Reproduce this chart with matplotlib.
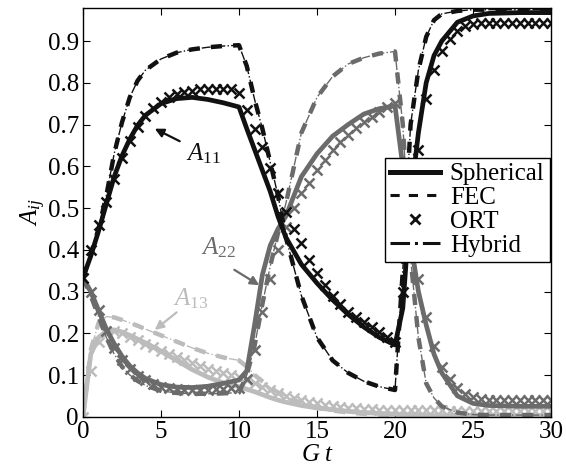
import numpy as np
import matplotlib
matplotlib.use('Agg')
import matplotlib.pyplot as plt

plt.rcParams['font.family'] = ['Liberation Serif', 'DejaVu Serif']
plt.rcParams['mathtext.fontset'] = 'custom'
plt.rcParams['mathtext.rm'] = 'Liberation Serif'
plt.rcParams['mathtext.it'] = 'Liberation Serif:italic'

# time grid for the continuous curves
t_line = [0, 0.5, 1, 1.5, 2, 2.5, 3, 3.5, 4, 5, 6, 7, 8, 9, 10, 10.5, 11, 11.5, 12, 12.5,
          13, 14, 15, 16, 17, 18, 19, 20, 20.5, 21, 21.5, 22, 22.5, 23, 24, 25, 26, 28, 30]

# Spherical (solid)
sph_a11 = [0.333, 0.385, 0.445, 0.51, 0.575, 0.625, 0.665, 0.698, 0.722, 0.75, 0.762, 0.765, 0.76, 0.752,
           0.742, 0.69, 0.64, 0.59, 0.54, 0.48, 0.43, 0.365, 0.32, 0.28, 0.245, 0.215, 0.19, 0.172,
           0.26, 0.52, 0.68, 0.80, 0.865, 0.90, 0.945, 0.96, 0.966, 0.968, 0.968]
sph_a22 = [0.333, 0.30, 0.255, 0.21, 0.175, 0.145, 0.122, 0.105, 0.092, 0.077, 0.071, 0.070, 0.073, 0.08,
           0.088, 0.11, 0.22, 0.34, 0.41, 0.45, 0.48, 0.575, 0.63, 0.672, 0.70, 0.725, 0.738, 0.745,
           0.60, 0.42, 0.30, 0.22, 0.15, 0.105, 0.05, 0.032, 0.027, 0.025, 0.025]
sph_a13 = [0.0, 0.15, 0.19, 0.205, 0.208, 0.203, 0.195, 0.186, 0.177, 0.157, 0.135, 0.113, 0.095, 0.081,
           0.072, 0.066, 0.06, 0.053, 0.046, 0.04, 0.035, 0.027, 0.021, 0.017, 0.013, 0.01, 0.008, 0.006,
           0.005, 0.004, 0.004, 0.003, 0.003, 0.003, 0.002, 0.002, 0.002, 0.002, 0.002]

# FEC (dashed)
fec_a11 = [0.333, 0.39, 0.45, 0.53, 0.63, 0.705, 0.765, 0.805, 0.83, 0.857, 0.872, 0.88, 0.885, 0.888,
           0.89, 0.84, 0.76, 0.69, 0.61, 0.53, 0.43, 0.29, 0.19, 0.135, 0.105, 0.085, 0.072, 0.064,
           0.35, 0.70, 0.83, 0.91, 0.95, 0.965, 0.972, 0.975, 0.975, 0.975, 0.975]
fec_a22 = [0.333, 0.29, 0.24, 0.19, 0.15, 0.12, 0.10, 0.086, 0.075, 0.062, 0.057, 0.055, 0.055, 0.056,
           0.058, 0.10, 0.17, 0.27, 0.36, 0.44, 0.51, 0.68, 0.765, 0.815, 0.845, 0.86, 0.87, 0.875,
           0.70, 0.38, 0.19, 0.08, 0.045, 0.025, 0.01, 0.005, 0.004, 0.004, 0.004]
fec_a13 = [0.0, 0.16, 0.225, 0.24, 0.238, 0.232, 0.225, 0.218, 0.21, 0.195, 0.18, 0.165, 0.152, 0.142,
           0.135, 0.12, 0.10, 0.085, 0.07, 0.058, 0.048, 0.033, 0.022, 0.015, 0.01, 0.007, 0.005, 0.004,
           0.003, 0.003, 0.002, 0.002, 0.002, 0.001, 0.001, 0.001, 0.001, 0.001, 0.001]

# Hybrid (dash-dot) lies on top of FEC
hyb_a11 = fec_a11
hyb_a22 = fec_a22
hyb_a13 = fec_a13

# ORT (x markers), sampled every 0.5
t_ort = np.arange(0, 30.5, 0.5)
ort_a11 = [0.333, 0.40, 0.46, 0.515, 0.57, 0.62, 0.66, 0.695, 0.72, 0.74, 0.755, 0.765, 0.772, 0.777,
           0.781, 0.784, 0.786, 0.786, 0.786, 0.784, 0.775, 0.735, 0.69, 0.645, 0.595, 0.535, 0.49,
           0.45, 0.415, 0.375, 0.345, 0.315, 0.29, 0.27, 0.252, 0.24, 0.226, 0.214, 0.203, 0.19,
           0.178, 0.30, 0.50, 0.64, 0.76, 0.83, 0.875, 0.905, 0.925, 0.935, 0.94, 0.943, 0.943,
           0.943, 0.943, 0.943, 0.943, 0.943, 0.943, 0.943, 0.943]
ort_a22 = [0.333, 0.30, 0.255, 0.205, 0.165, 0.135, 0.115, 0.098, 0.087, 0.078, 0.072, 0.068, 0.066,
           0.065, 0.065, 0.065, 0.065, 0.066, 0.067, 0.068, 0.07, 0.09, 0.16, 0.25, 0.33, 0.40, 0.455,
           0.50, 0.535, 0.56, 0.59, 0.615, 0.64, 0.658, 0.675, 0.692, 0.705, 0.718, 0.73, 0.742,
           0.752, 0.60, 0.45, 0.33, 0.24, 0.17, 0.12, 0.09, 0.068, 0.055, 0.047, 0.043, 0.041,
           0.04, 0.04, 0.04, 0.04, 0.04, 0.04, 0.04, 0.04]
ort_a13 = [0.0, 0.11, 0.18, 0.20, 0.205, 0.20, 0.192, 0.183, 0.175, 0.166, 0.158, 0.15, 0.142, 0.135,
           0.128, 0.121, 0.115, 0.11, 0.105, 0.10, 0.095, 0.088, 0.08, 0.072, 0.064, 0.057, 0.05,
           0.045, 0.04, 0.036, 0.032, 0.029, 0.026, 0.024, 0.022, 0.02, 0.019, 0.018, 0.017, 0.017,
           0.016, 0.016, 0.016, 0.015, 0.015, 0.015, 0.015, 0.014, 0.014, 0.014, 0.014, 0.014,
           0.013, 0.013, 0.013, 0.013, 0.013, 0.013, 0.013, 0.013, 0.013]

c11 = '#111111'
c22 = '#6b6b6b'
c13 = '#bcbcbc'

fig = plt.figure(figsize=(5.66, 4.70), dpi=100)
ax = fig.add_axes([0.1466, 0.1133, 0.8269, 0.8705])

groups = [(sph_a13, fec_a13, hyb_a13, ort_a13, c13),
          (sph_a22, fec_a22, hyb_a22, ort_a22, c22),
          (sph_a11, fec_a11, hyb_a11, ort_a11, c11)]
for sph, fec, hyb, ort, c in groups:
    ax.plot(t_line, sph, '-', color=c, lw=3.4)
    ax.plot(t_line, fec, '--', color=c, lw=3.2, dashes=(2.5, 2.5))
    ax.plot(t_line, hyb, '-.', color=c, lw=1.0)
    ax.plot(t_ort, ort, 'x', color=c, ms=7, mew=1.8)

# legend handles (black style)
l1, = ax.plot([], [], '-', color=c11, lw=3.6)
l2, = ax.plot([], [], '--', color=c11, lw=2.2, dashes=(3, 3))
l3, = ax.plot([], [], 'x', color=c11, ms=7, mew=2)
l4, = ax.plot([], [], '-.', color=c11, lw=2.2)
ax.legend([l1, l2, l3, l4], ['Spherical', 'FEC', 'ORT', 'Hybrid'],
          loc='upper left', bbox_to_anchor=(0.645, 0.633), fontsize=18,
          frameon=True, fancybox=False, edgecolor='black', framealpha=1,
          handlelength=2.0, handletextpad=0.4, borderpad=0.2, labelspacing=0.05,
          borderaxespad=0)

# annotations: text plus separate arrow
ax.text(7.7, 0.63, '$A_{11}$', color=c11, fontsize=18, ha='center', va='center')
ax.annotate('', xy=(4.6, 0.69), xytext=(6.2, 0.66),
            arrowprops=dict(arrowstyle='-|>', color=c11, lw=1.6, mutation_scale=13,
                            shrinkA=0, shrinkB=0))
ax.text(8.7, 0.405, '$A_{22}$', color=c22, fontsize=18, ha='center', va='center')
ax.annotate('', xy=(11.3, 0.315), xytext=(9.7, 0.352),
            arrowprops=dict(arrowstyle='-|>', color=c22, lw=1.6, mutation_scale=13,
                            shrinkA=0, shrinkB=0))
ax.text(6.9, 0.282, '$A_{13}$', color=c13, fontsize=18, ha='center', va='center')
ax.annotate('', xy=(4.6, 0.208), xytext=(6.0, 0.25),
            arrowprops=dict(arrowstyle='-|>', color=c13, lw=1.6, mutation_scale=13,
                            shrinkA=0, shrinkB=0))

ax.set_xlim(0, 30)
ax.set_ylim(0, 0.98)
ax.set_xticks([0, 5, 10, 15, 20, 25, 30])
ax.set_yticks([0, 0.1, 0.2, 0.3, 0.4, 0.5, 0.6, 0.7, 0.8, 0.9])
ax.set_yticklabels(['0', '0.1', '0.2', '0.3', '0.4', '0.5', '0.6', '0.7', '0.8', '0.9'])
ax.tick_params(direction='in', top=True, right=True, labelsize=18, length=5, pad=3)
ax.set_xlabel('$G\\;t$', fontsize=18, labelpad=1)
ax.set_ylabel('$A_{ij}$', fontsize=18, labelpad=0)
for s in ax.spines.values():
    s.set_linewidth(1.0)

fig.savefig('out.png', dpi=100)
